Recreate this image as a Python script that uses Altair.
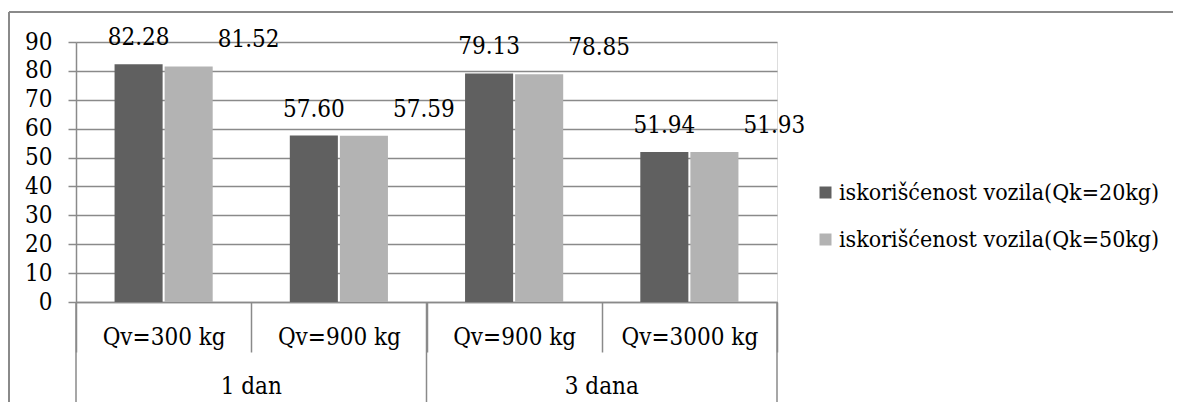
import altair as alt
import pandas as pd

# ---- data ----
groups = ["1 dan", "1 dan", "3 dana", "3 dana"]
qv_labels = ["Qv=300 kg", "Qv=900 kg", "Qv=900 kg", "Qv=3000 kg"]
series_names = ["iskorišćenost vozila(Qk=20kg)", "iskorišćenost vozila(Qk=50kg)"]
values_20 = [82.28, 57.60, 79.13, 51.94]
values_50 = [81.52, 57.59, 78.85, 51.93]
y_ticks = [0, 10, 20, 30, 40, 50, 60, 70, 80, 90]
group_names = ["1 dan", "3 dana"]

keys = [f"{g}|{q}" for g, q in zip(groups, qv_labels)]
rows = []
for k, v20, v50 in zip(keys, values_20, values_50):
    rows.append({"key": k, "series": series_names[0], "value": v20, "label": f"{v20:.2f}"})
    rows.append({"key": k, "series": series_names[1], "value": v50, "label": f"{v50:.2f}"})
df = pd.DataFrame(rows)

group_anchor = [keys[groups.index(g) + 1] for g in group_names]
gdf = pd.DataFrame({"key": group_anchor, "name": group_names})
starts_df = pd.DataFrame({"key": [keys[groups.index(g)] for g in group_names]})
end_df = pd.DataFrame({"key": [keys[-1]]})
one = pd.DataFrame({"a": [0]})

# ---- style ----
FONT = "DejaVu Serif Condensed"
FS = 24
LFS = 23
GRID = "#8a8a8a"
DARK = "#606060"
LIGHT = "#b3b3b3"
W, H = 701, 260

x_scale = alt.Scale(domain=keys, paddingInner=0, paddingOuter=0)
x_axis = alt.Axis(
    title=None, labelExpr="split(datum.value, '|')[1]", labelAngle=0,
    tickBand="extent", tickSize=50, tickColor=GRID, tickWidth=1.5,
    domainColor=GRID, domainWidth=1.5, labelFont=FONT, labelFontSize=FS,
    labelColor="black", labelPadding=-15, labelBaseline="middle", labelOverlap=False,
)
y_scale = alt.Scale(domain=[0, 90], nice=False)
y_axis = alt.Axis(
    title=None, values=y_ticks, tickCount=10, grid=True, gridColor=GRID, gridWidth=1.5,
    tickColor=GRID, tickSize=8, tickWidth=1.5, domainColor=GRID, domainWidth=1.5,
    labelFont=FONT, labelFontSize=FS, labelColor="black", labelPadding=16, format="d",
    labelOverlap=False,
)
xoff = alt.XOffset("series:N", sort=series_names,
                   scale=alt.Scale(domain=series_names, paddingInner=0.04, paddingOuter=0.77))

X = alt.X("key:N", sort=keys, scale=x_scale, axis=x_axis)
Y = alt.Y("value:Q", scale=y_scale, axis=y_axis)

base = alt.Chart(df)

bars = base.mark_bar().encode(
    x=X,
    xOffset=xoff,
    y=Y,
    color=alt.Color(
        "series:N", sort=series_names,
        scale=alt.Scale(domain=series_names, range=[DARK, LIGHT]),
        legend=alt.Legend(
            title=None, orient="none", legendX=738, legendY=139, padding=0,
            symbolType="square", symbolSize=144, symbolStrokeWidth=0,
            labelFont=FONT, labelFontSize=LFS, labelColor="black",
            labelOffset=2, rowPadding=23, labelLimit=420,
        ),
    ),
)

lab_dark = base.transform_filter(alt.datum.series == series_names[0]).mark_text(
    font=FONT, fontSize=FS, dy=-26, color="black"
).encode(x=X, xOffset=xoff, y=Y, text="label:N")
lab_light = base.transform_filter(alt.datum.series == series_names[1]).mark_text(
    font=FONT, fontSize=FS, dy=-26, dx=60, color="black"
).encode(x=X, xOffset=xoff, y=Y, text="label:N")

group_text = alt.Chart(gdf).mark_text(font=FONT, fontSize=FS, color="black", baseline="middle").encode(
    x=alt.X("key:N", sort=keys, scale=x_scale, axis=x_axis, bandPosition=0),
    y=alt.value(345),
    text="name:N",
)

group_rules_start = alt.Chart(starts_df).mark_rule(color=GRID, strokeWidth=1.5).encode(
    x=alt.X("key:N", sort=keys, scale=x_scale, axis=x_axis, bandPosition=0),
    y=alt.value(H), y2=alt.value(H + 110),
)
group_rules_end = alt.Chart(end_df).mark_rule(color=GRID, strokeWidth=1.5).encode(
    x=alt.X("key:N", sort=keys, scale=x_scale, axis=x_axis, bandPosition=1),
    y=alt.value(H), y2=alt.value(H + 110),
)

frame_top = alt.Chart(one).mark_rule(color=GRID, strokeWidth=2).encode(
    x=alt.value(-67), x2=alt.value(1200), y=alt.value(-30)
)
frame_left = alt.Chart(one).mark_rule(color=GRID, strokeWidth=2).encode(
    x=alt.value(-67), y=alt.value(-30), y2=alt.value(H + 120)
)

chart = alt.layer(
    bars, lab_dark, lab_light, group_text,
    group_rules_start, group_rules_end, frame_top, frame_left,
).properties(
    width=W, height=H,
    autosize=alt.AutoSizeParams(type="none"),
    padding={"left": 68, "top": 34, "right": 396, "bottom": 100},
).configure_view(stroke=None).configure(font=FONT)

chart.save("out.html", embed_options={"renderer": "svg", "actions": False})
